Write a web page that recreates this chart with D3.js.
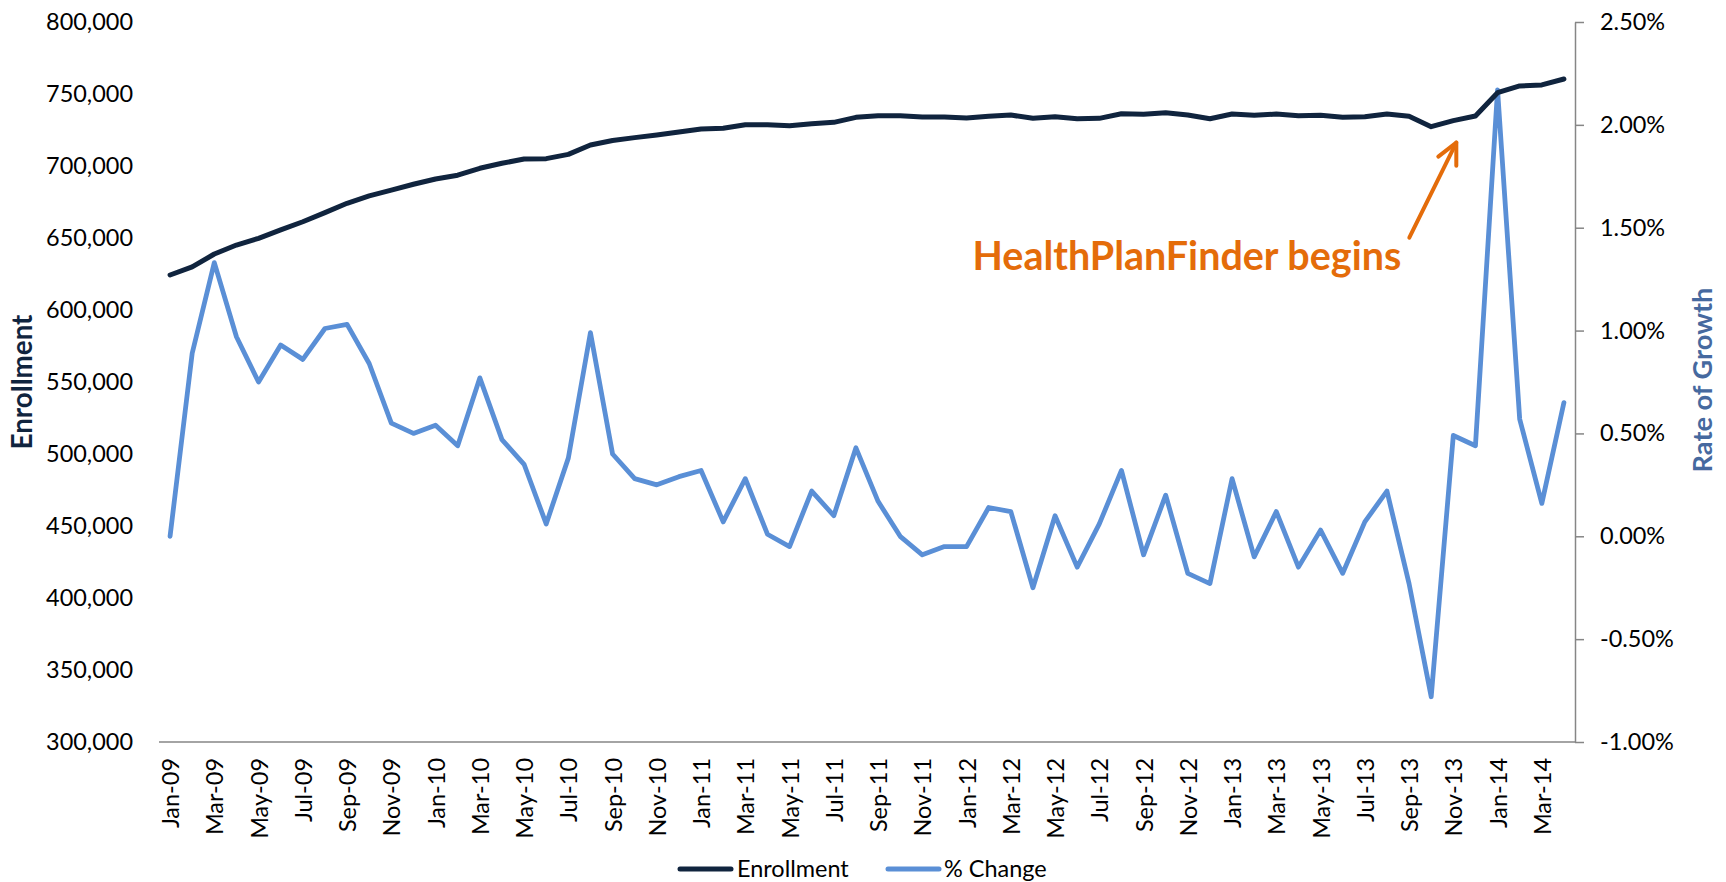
<!DOCTYPE html>
<html><head><meta charset="utf-8">
<script src="https://cdn.jsdelivr.net/npm/d3@7"></script>
<style>body{margin:0;background:#fff;} svg{display:block;} text{font-family:Lato,"Open Sans",sans-serif;}</style>
</head><body>
<svg id="c" width="1726" height="882"></svg>
<script>
const months = ["Jan-09","Feb-09","Mar-09","Apr-09","May-09","Jun-09","Jul-09","Aug-09","Sep-09","Oct-09","Nov-09","Dec-09",
"Jan-10","Feb-10","Mar-10","Apr-10","May-10","Jun-10","Jul-10","Aug-10","Sep-10","Oct-10","Nov-10","Dec-10",
"Jan-11","Feb-11","Mar-11","Apr-11","May-11","Jun-11","Jul-11","Aug-11","Sep-11","Oct-11","Nov-11","Dec-11",
"Jan-12","Feb-12","Mar-12","Apr-12","May-12","Jun-12","Jul-12","Aug-12","Sep-12","Oct-12","Nov-12","Dec-12",
"Jan-13","Feb-13","Mar-13","Apr-13","May-13","Jun-13","Jul-13","Aug-13","Sep-13","Oct-13","Nov-13","Dec-13",
"Jan-14","Feb-14","Mar-14","Apr-14"];
const enrollment = [624300,629900,638900,645100,649800,655600,661300,667600,674100,679200,
683300,687300,691000,693600,698400,701900,704900,705100,708100,714600,
717700,719700,721500,723600,725700,726200,728700,728700,728000,729400,
730300,733800,734900,734900,734000,734000,733300,734500,735400,733100,
734200,732800,733100,736300,735900,737000,735400,732800,736100,735200,
736100,734900,735200,733800,734200,736100,734500,727300,731500,734700,
750900,755600,756300,760400];
const pctChange = [0.00,0.89,1.33,0.97,0.75,0.93,0.86,1.01,1.03,0.84,
0.55,0.50,0.54,0.44,0.77,0.47,0.35,0.06,0.38,0.99,
0.40,0.28,0.25,0.29,0.32,0.07,0.28,0.01,-0.05,0.22,
0.10,0.43,0.17,0.00,-0.09,-0.05,-0.05,0.14,0.12,-0.25,
0.10,-0.15,0.06,0.32,-0.09,0.20,-0.18,-0.23,0.28,-0.10,
0.12,-0.15,0.03,-0.18,0.07,0.22,-0.23,-0.78,0.49,0.44,
2.17,0.57,0.16,0.65];
const leftTicks = [300000,350000,400000,450000,500000,550000,600000,650000,700000,750000,800000];
const rightTicks = [-1.0,-0.5,0,0.5,1.0,1.5,2.0,2.5];
const xTickLabels = months.filter((d,i)=>i%2===0);
const seriesNames = ["Enrollment","% Change"];
const annotationText = "HealthPlanFinder begins";
const annotationIndex = 58;

const C_ENR = "#10243E", C_PCT = "#5A8FD6", C_ORANGE = "#E46C0A", C_AXIS = "#868686", C_RTITLE = "#46699F";
const svg = d3.select("#c");
const L = 159, R = 1575, T = 22, B = 742;

const probe = svg.append("text").attr("font-size",23).text("300,000");
const baseFS = 23*87/probe.node().getComputedTextLength();
probe.remove();

const x = d3.scalePoint().domain(months).range([L,R]).padding(0.5);
const yL = d3.scaleLinear().domain([300000,800000]).range([B,T]);
const yR = d3.scaleLinear().domain([-1,2.5]).range([B,T]);

const gl = svg.append("g").attr("transform",`translate(${L},0)`)
  .call(d3.axisLeft(yL).tickValues(leftTicks).tickSize(0).tickPadding(26).tickFormat(d3.format(",")));
gl.select(".domain").remove();
gl.selectAll("text").attr("font-size",baseFS).attr("fill","#000").attr("font-family","Lato");

const gr = svg.append("g").attr("transform",`translate(${R},0)`)
  .call(d3.axisRight(yR).tickValues(rightTicks).tickSize(9).tickSizeOuter(0).tickPadding(16).tickFormat(d=>d.toFixed(2)+"%"));
gr.select(".domain").attr("stroke",C_AXIS).attr("stroke-width",1.5);
gr.selectAll(".tick line").attr("stroke",C_AXIS).attr("stroke-width",1.5);
gr.selectAll("text").attr("font-size",baseFS).attr("fill","#000").attr("font-family","Lato");

const gb = svg.append("g").attr("transform",`translate(0,${B})`)
  .call(d3.axisBottom(x).tickValues(xTickLabels).tickSize(0).tickSizeOuter(0));
gb.select(".domain").attr("stroke",C_AXIS).attr("stroke-width",1.5).attr("d",`M${L},0H${R}`);
gb.selectAll(".tick text").attr("font-size",baseFS).attr("fill","#000").attr("font-family","Lato")
  .attr("transform","rotate(-90)").attr("text-anchor","end").attr("x",-16).attr("y",0).attr("dy","0.36em");

const lineE = d3.line().x((d,i)=>x(months[i])).y(d=>yL(d));
const lineP = d3.line().x((d,i)=>x(months[i])).y(d=>yR(d));
svg.append("path").datum(pctChange).attr("d",lineP).attr("fill","none").attr("stroke",C_PCT)
  .attr("stroke-width",4.8).attr("stroke-linejoin","round").attr("stroke-linecap","round");
svg.append("path").datum(enrollment).attr("d",lineE).attr("fill","none").attr("stroke",C_ENR)
  .attr("stroke-width",5).attr("stroke-linejoin","round").attr("stroke-linecap","round");

function fit(sel, target){ const w = sel.node().getComputedTextLength(); sel.attr("font-size", parseFloat(sel.attr("font-size"))*target/w); }
const t1 = svg.append("text").attr("transform",`translate(21,${(T+B)/2}) rotate(-90)`)
  .attr("text-anchor","middle").attr("dominant-baseline","central").attr("font-weight","bold")
  .attr("font-size",27).attr("fill",C_ENR).text("Enrollment");
fit(t1,135);
const t2 = svg.append("text").attr("transform",`translate(1701,${(T+B)/2 - 2}) rotate(-90)`)
  .attr("text-anchor","middle").attr("dominant-baseline","central").attr("font-weight","bold")
  .attr("font-size",27).attr("fill",C_RTITLE).text("Rate of Growth");
fit(t2,185);

const legY = 869;
const leg = [{name:seriesNames[0],c:C_ENR,x0:680,x1:731,tx:737},{name:seriesNames[1],c:C_PCT,x0:888,x1:939,tx:944}];
leg.forEach(l=>{
  svg.append("line").attr("x1",l.x0).attr("x2",l.x1).attr("y1",legY).attr("y2",legY)
    .attr("stroke",l.c).attr("stroke-width",5).attr("stroke-linecap","round");
  svg.append("text").attr("x",l.tx).attr("y",legY).attr("dy","0.35em").attr("font-size",baseFS)
    .attr("fill","#000").text(l.name);
});

const tipX = x(months[annotationIndex]) + 3, tipY = yL(enrollment[annotationIndex]) + 22;
const ann = svg.append("g").attr("stroke",C_ORANGE).attr("stroke-width",4).attr("stroke-linecap","round").attr("fill","none");
ann.append("line").attr("x1",tipX-47).attr("y1",tipY+95).attr("x2",tipX).attr("y2",tipY);
ann.append("polyline").attr("points",`${tipX-18},${tipY+14} ${tipX},${tipY} ${tipX},${tipY+23}`).attr("stroke-linejoin","round");
const at = svg.append("text").attr("x",tipX-55).attr("y",tipY+127).attr("text-anchor","end")
  .attr("font-weight","bold").attr("font-size",38).attr("fill",C_ORANGE).text(annotationText);
fit(at,429);
</script>
</body></html>
